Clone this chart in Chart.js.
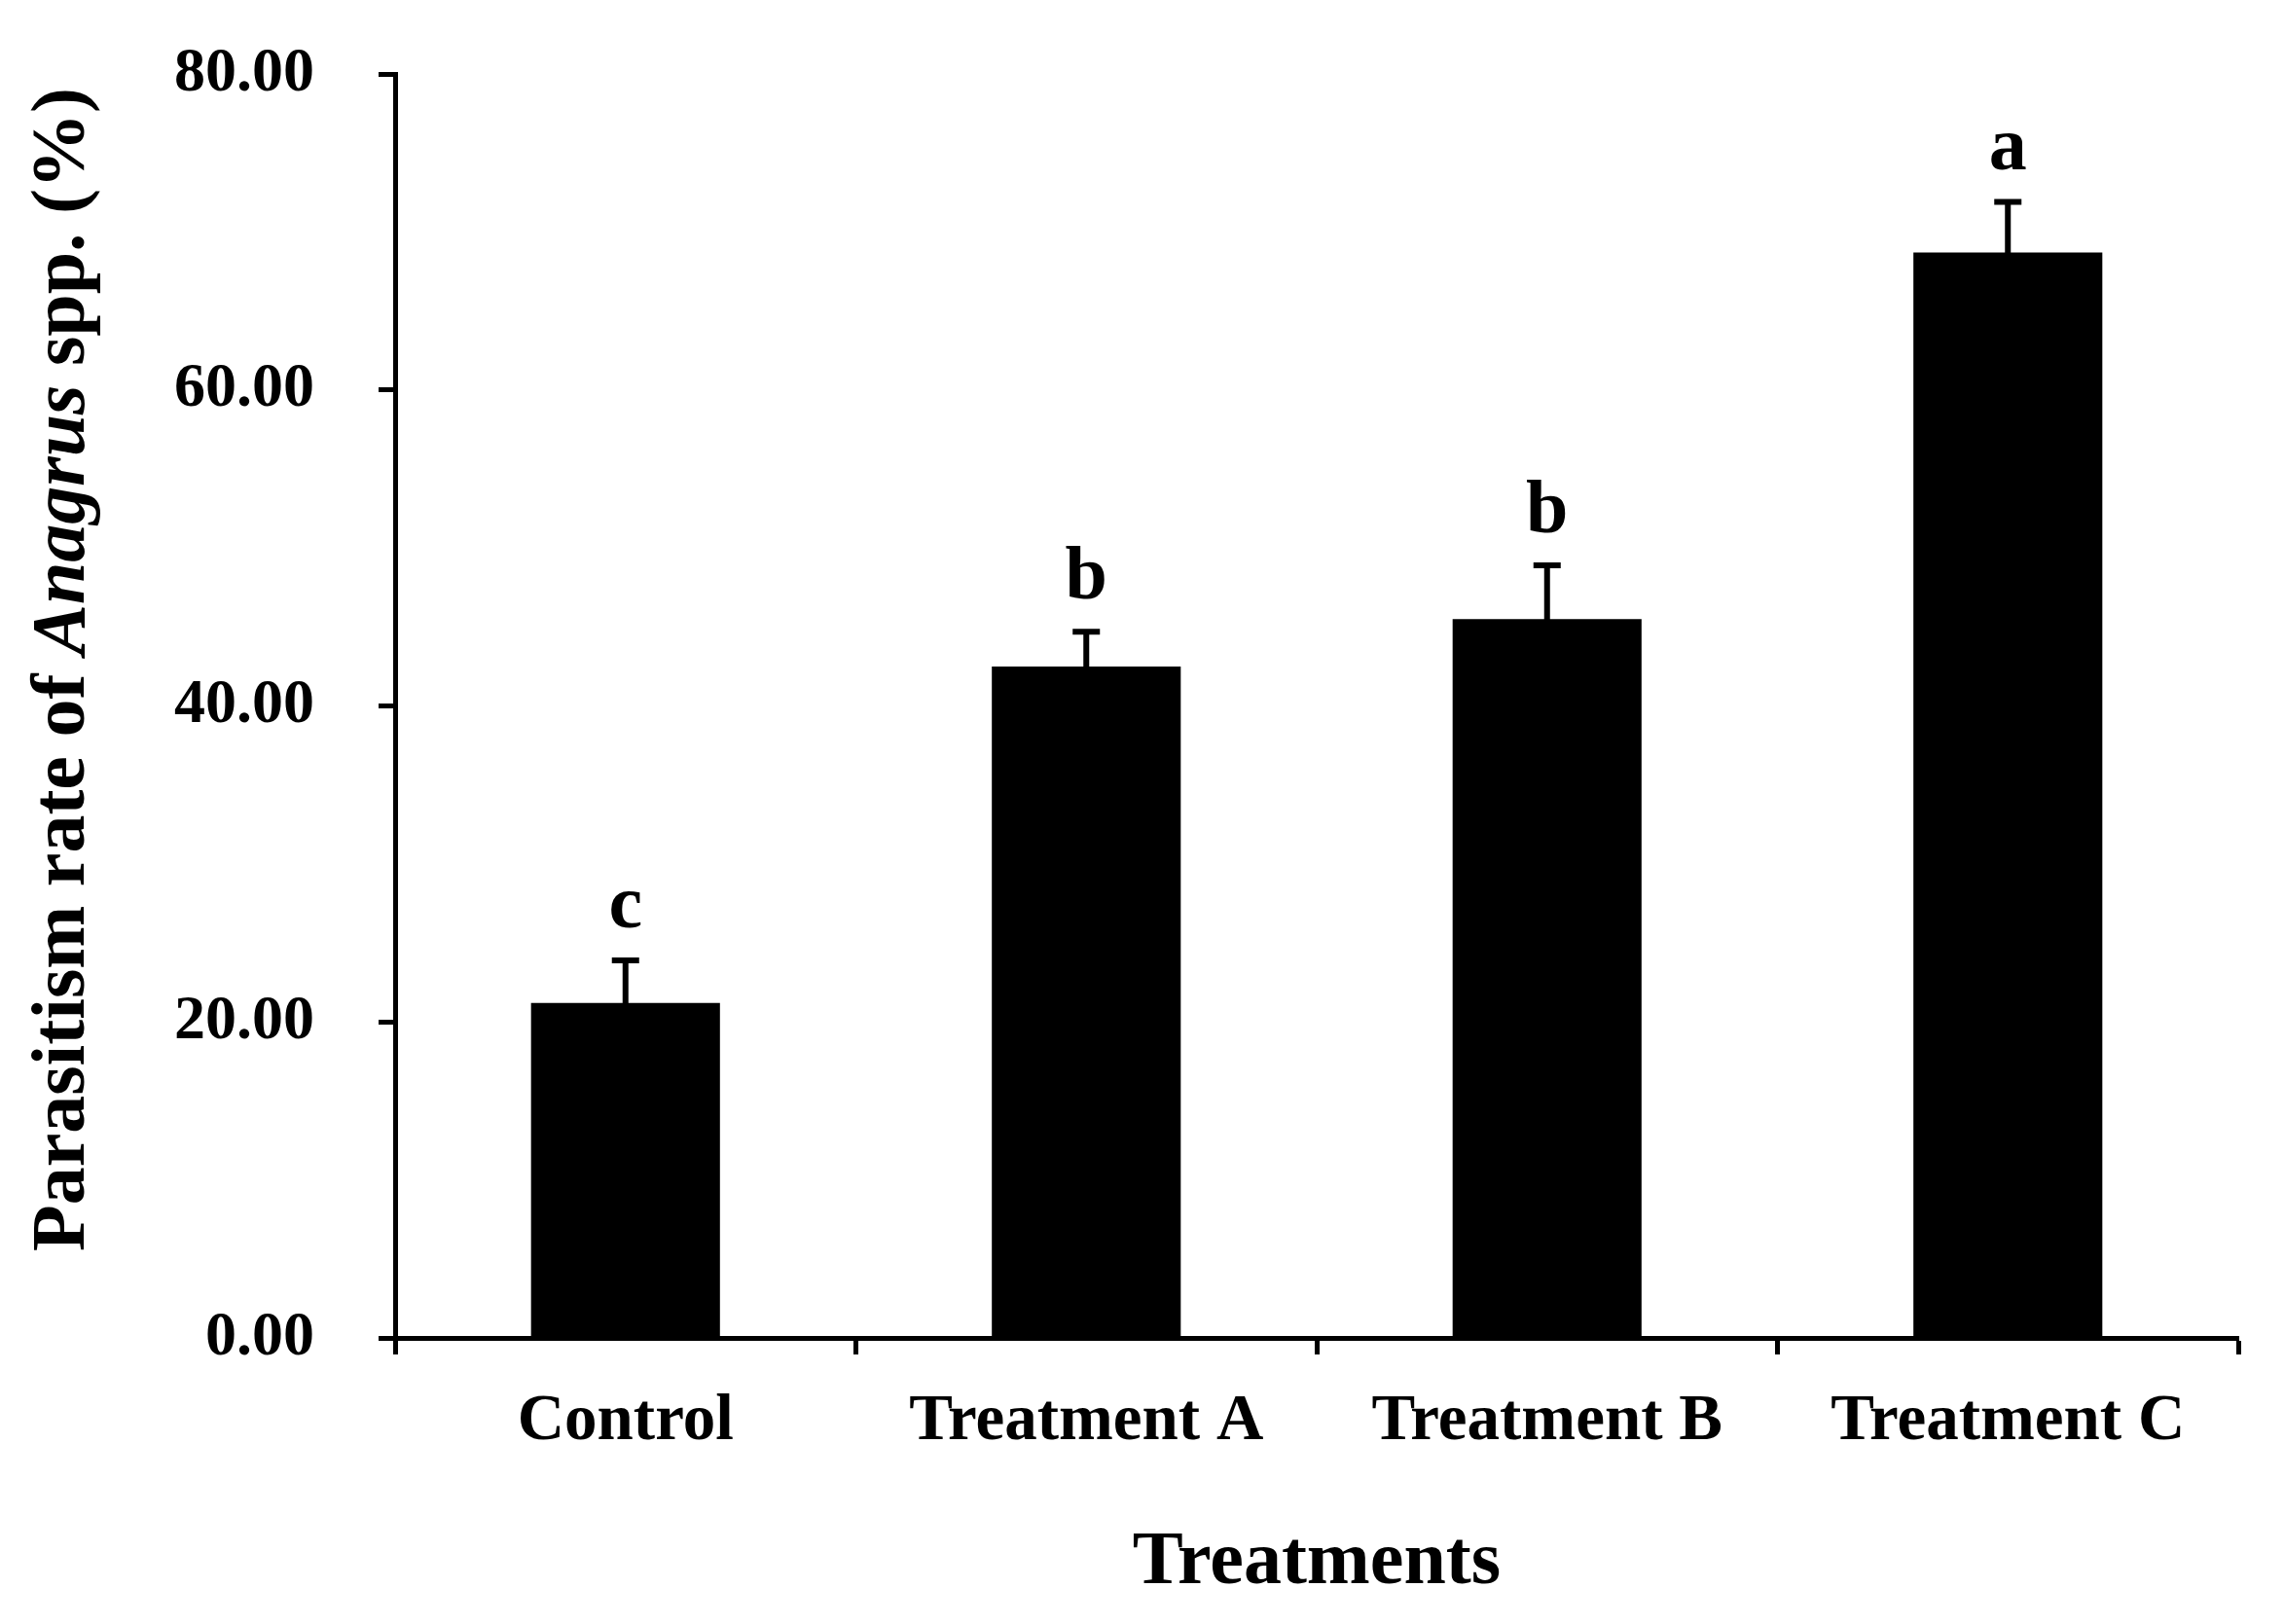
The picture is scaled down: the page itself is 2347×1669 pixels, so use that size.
<!DOCTYPE html>
<html>
<head>
<meta charset="utf-8">
<title>Parasitism rate of Anagrus spp.</title>
<script src="https://cdn.jsdelivr.net/npm/chart.js@4.4.1/dist/chart.umd.min.js"></script>
<style>
  html, body { margin: 0; padding: 0; background: #fff; }
  #wrap { width: 2347px; height: 1669px; }
</style>
</head>
<body>
<div id="wrap"><canvas id="rateChart" width="2347" height="1669"></canvas></div>
<script>
// 数据
const treatments = ['Control', 'Treatment A', 'Treatment B', 'Treatment C'];
const parasitismRate = [21.2, 42.5, 45.5, 68.7];
const standardError = [2.7, 2.2, 3.4, 3.2];
const sigLetters = ['c', 'b', 'b', 'a'];

const serif = '"Liberation Serif", "Times New Roman", serif';

// 误差线 + 显著性字母
const errorBarPlugin = {
    id: 'errorBars',
    afterDatasetsDraw(chart) {
        const ctx = chart.ctx;
        const y = chart.scales.y;
        const meta = chart.getDatasetMeta(0);
        ctx.save();
        ctx.strokeStyle = '#000';
        ctx.fillStyle = '#000';
        ctx.lineWidth = 6;
        meta.data.forEach((bar, i) => {
            const top = y.getPixelForValue(parasitismRate[i] + standardError[i]);
            const bottom = y.getPixelForValue(parasitismRate[i] - standardError[i]);
            ctx.beginPath();
            ctx.moveTo(bar.x, bottom);
            ctx.lineTo(bar.x, top);
            ctx.moveTo(bar.x - 14, top);
            ctx.lineTo(bar.x + 14, top);
            ctx.stroke();

            ctx.font = 'bold 78px ' + serif;
            ctx.textAlign = 'center';
            ctx.textBaseline = 'alphabetic';
            ctx.fillText(sigLetters[i], bar.x, top - 34);
        });
        ctx.restore();
    }
};

// Y轴标题 (含斜体)
const yTitlePlugin = {
    id: 'yTitle',
    afterDraw(chart) {
        const ctx = chart.ctx;
        const parts = [
            { text: 'Parasitism rate of ', font: 'bold 78px ' + serif },
            { text: 'Anagrus', font: 'italic bold 78px ' + serif },
            { text: ' spp. (%)', font: 'bold 78px ' + serif }
        ];
        ctx.save();
        let total = 0;
        parts.forEach(p => { ctx.font = p.font; p.w = ctx.measureText(p.text).width; total += p.w; });
        ctx.translate(86, 688);
        ctx.rotate(-Math.PI / 2);
        ctx.fillStyle = '#000';
        ctx.textBaseline = 'alphabetic';
        ctx.textAlign = 'left';
        let x = -total / 2;
        parts.forEach(p => { ctx.font = p.font; ctx.fillText(p.text, x, 0); x += p.w; });
        ctx.restore();
    }
};

const ctx = document.getElementById('rateChart').getContext('2d');
new Chart(ctx, {
    type: 'bar',
    data: {
        labels: treatments,
        datasets: [{
            data: parasitismRate,
            backgroundColor: '#000',
            borderWidth: 0,
            categoryPercentage: 1.0,
            barPercentage: 0.41
        }]
    },
    options: {
        responsive: false,
        animation: false,
        devicePixelRatio: 1,
        layout: { padding: { left: 113, right: 47, top: 76, bottom: 15 } },
        plugins: {
            legend: { display: false },
            tooltip: { enabled: false }
        },
        scales: {
            x: {
                grid: {
                    display: true,
                    offset: true,
                    drawOnChartArea: false,
                    tickLength: 17,
                    tickWidth: 5,
                    tickColor: '#000'
                },
                border: { display: true, color: '#000', width: 5 },
                ticks: {
                    color: '#000',
                    padding: 29,
                    font: { family: serif, size: 67, weight: 'bold' }
                },
                title: {
                    display: true,
                    text: 'Treatments',
                    color: '#000',
                    padding: { top: 30, bottom: 0 },
                    font: { family: serif, size: 78, weight: 'bold' }
                }
            },
            y: {
                min: 0,
                max: 80,
                afterFit(scale) {
                    // 刻度标签的内边距不要撑开上下留白
                    scale.paddingTop = 0;
                    scale.paddingBottom = 0;
                },
                grid: {
                    display: true,
                    drawOnChartArea: false,
                    tickLength: 17,
                    tickWidth: 5,
                    tickColor: '#000'
                },
                border: { display: true, color: '#000', width: 5 },
                ticks: {
                    stepSize: 20,
                    color: '#000',
                    padding: 66,
                    font: { family: serif, size: 64, weight: 'bold' },
                    callback: v => v.toFixed(2)
                }
            }
        }
    },
    plugins: [errorBarPlugin, yTitlePlugin]
});
</script>
</body>
</html>
